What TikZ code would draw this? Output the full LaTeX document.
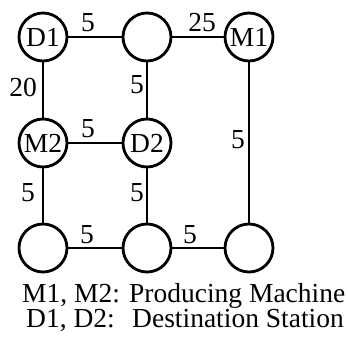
\documentclass[tikz,border=0pt]{standalone}
\usepackage{fontspec}
\setmainfont{Liberation Serif}
\begin{document}
\begin{tikzpicture}[x=1pt,y=-1pt,
  station/.style={circle,draw,line width=2.8pt,minimum size=48pt,inner sep=0pt,font=\fontsize{27.5}{29}\selectfont},
  link/.style={line width=2.5pt},
  lbl/.style={font=\fontsize{27.5}{29}\selectfont,inner sep=0pt}]
\useasboundingbox (0,0) rectangle (348,346);
\node[station] (D1) at (43,37) {D1};
\node[station] (T) at (147,37) {};
\node[station] (M1) at (249,37) {M1};
\node[station] (M2) at (43,143) {M2};
\node[station] (D2) at (147,143) {D2};
\node[station] (B1) at (43,248) {};
\node[station] (B2) at (147,248) {};
\node[station] (B3) at (249,248) {};
\draw[link] (D1) -- (T);
\draw[link] (T) -- (M1);
\draw[link] (D1) -- (M2);
\draw[link] (T) -- (D2);
\draw[link] (M2) -- (D2);
\draw[link] (M1) -- (B3);
\draw[link] (M2) -- (B1);
\draw[link] (D2) -- (B2);
\draw[link] (B1) -- (B2);
\draw[link] (B2) -- (B3);
\node[lbl] (l1) at (88,23) {5};
\node[lbl] (l2) at (202,23) {25};
\node[lbl] (l3) at (23,87) {20};
\node[lbl] (l4) at (137,85) {5};
\node[lbl] (l5) at (88,129) {5};
\node[lbl] (l6) at (238,140) {5};
\node[lbl] (l7) at (28,193) {5};
\node[lbl] (l8) at (137,193) {5};
\node[lbl] (l9) at (87,235) {5};
\node[lbl] (l10) at (190,235) {5};
\node[lbl,anchor=base west] (k1) at (22,302) {M1, M2: Producing Machine};
\node[lbl,anchor=base west] (k2) at (26,327) {D1, D2:\hspace{0.3em} Destination Station};
\end{tikzpicture}
\end{document}
